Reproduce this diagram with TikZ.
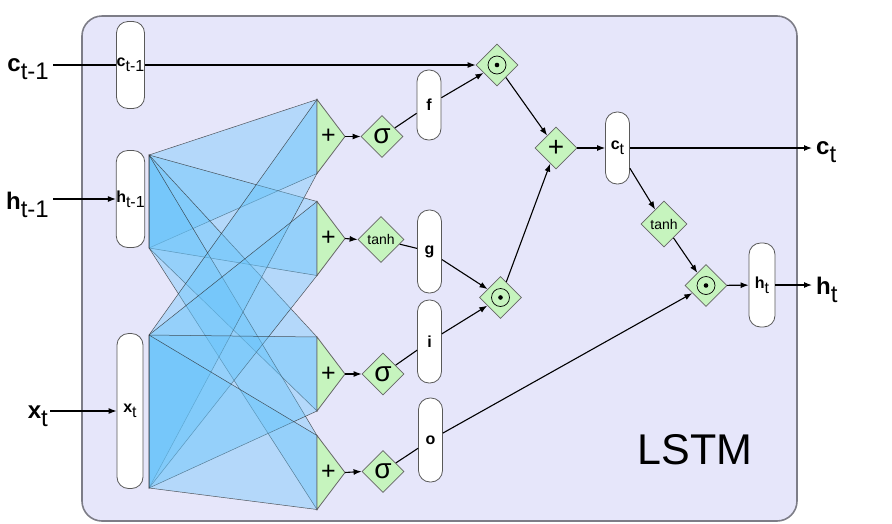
\documentclass[tikz,border=0pt]{standalone}
\usepackage{fontspec}
\setmainfont{Liberation Sans}
\usetikzlibrary{shapes.geometric,arrows.meta}
\definecolor{lstmbg}{RGB}{230,230,250}
\definecolor{lstmrim}{RGB}{125,125,135}
\definecolor{opgreen}{RGB}{198,244,190}
\definecolor{wblue}{RGB}{100,195,250}
\newcommand{\vsub}[2]{\textbf{#1}\raisebox{-0.32em}{#2}}
\tikzset{
  pill/.style={rectangle, rounded corners=11.5pt, draw=black!65, fill=white, line width=0.8pt,
    minimum width=24pt, inner sep=0pt, font=\fontsize{16}{17}\selectfont},
  gatepill/.style={pill, font=\fontsize{16}{18}\selectfont\bfseries},
  opdia/.style={diamond, draw=black!60, fill=opgreen, line width=0.8pt, minimum width=42pt,
    minimum height=42pt, inner sep=0pt, font=\fontsize{28}{28}\selectfont},
  tanhdia/.style={opdia, minimum width=46pt, minimum height=46pt, font=\fontsize{14}{14}\selectfont},
  sumtri/.style={draw=black!60, fill=opgreen, line width=0.8pt},
  wquad/.style={fill=wblue, fill opacity=0.38, draw=black!85, draw opacity=0.75, line width=0.5pt},
  extlbl/.style={inner sep=0pt, font=\fontsize{24}{25}\selectfont},
  carr/.style={-{Latex[length=8pt,width=6pt]}, line width=1.1pt},
  cln/.style={line width=1.1pt},
}
\begin{document}
\begin{tikzpicture}[x=1pt,y=-1pt]
  \useasboundingbox (0,0) rectangle (892,523);
  \draw[fill=lstmbg, draw=lstmrim, line width=1.6pt, rounded corners=20pt] (82,16) rectangle (797,521);
  \node[font=\fontsize{43}{43}\selectfont] (lstm) at (695,450) {LSTM};
  \foreach \st/\sb in {155/248,335/488}
    \foreach \yc in {136.5,238.5,374,472.5}
      \draw[wquad] (149,\st) -- (317,\yc-37) -- (317,\yc+37) -- (149,\sb) -- cycle;
  \foreach \n/\yc in {1/136.5,2/238.5,3/374,4/472.5}{
    \draw[sumtri] (317,\yc-37) -- (345,\yc) -- (317,\yc+37) -- cycle;
    \node[font=\fontsize{25}{25}\selectfont] (sum\n) at (328.5,\yc) {+};
    \coordinate (ap\n) at (345,\yc);
  }
  \node[pill, minimum width=28pt, minimum height=87pt] (cp) at (130.5,65) {\vsub{c}{t-1}};
  \node[pill, minimum width=28pt, minimum height=97pt] (hp) at (130.5,199) {\vsub{h}{t-1}};
  \node[pill, minimum width=26pt, minimum height=155pt] (xp) at (130,411) {\vsub{x}{t}};
  \node[extlbl, anchor=east] (cin) at (49,69) {\vsub{c}{t-1}};
  \node[extlbl, anchor=east] (hin) at (49,205) {\vsub{h}{t-1}};
  \node[extlbl, anchor=east] (xin) at (48,416) {\vsub{x}{t}};
  \node[opdia] (s1) at (382,136.5) {σ};
  \node[tanhdia] (s2) at (381,239.5) {tanh};
  \node[opdia] (s3) at (383,374) {σ};
  \node[opdia] (s4) at (383,471.5) {σ};
  \node[gatepill, minimum height=70pt] (f) at (429,105) {f};
  \node[gatepill, minimum height=83pt] (g) at (429.5,251.5) {g};
  \node[gatepill, minimum height=83pt] (i) at (429.5,341.5) {i};
  \node[gatepill, minimum height=84pt] (o) at (430.5,440) {o};
  \node[opdia] (m1) at (497,65) {};
  \node[opdia] (m2) at (500.5,297.5) {};
  \node[opdia] (m3) at (706,285.5) {};
  \node[opdia] (add) at (556,148) {+};
  \node[pill, minimum height=72pt] (ct) at (617.5,148) {\vsub{c}{t}};
  \node[tanhdia] (tc) at (664,224) {tanh};
  \node[pill, minimum width=26pt, minimum height=84pt] (ht) at (762,285) {\vsub{h}{t}};
  \node[extlbl, anchor=west] (cout) at (816,152) {\vsub{c}{t}};
  \node[extlbl, anchor=west] (hout) at (816,290) {\vsub{h}{t}};
  \foreach \m in {m1,m2,m3}{
    \draw[line width=0.7pt] (\m) circle (9pt);
    \fill (\m) circle (2.3pt);
  }
  \draw[cln, shorten <=4pt] (cin.east |- cp) -- (cp.west);
  \draw[carr] (cp.east) -- (m1);
  \draw[carr, shorten <=4pt] (hin.east |- hp) -- (hp.west);
  \draw[carr, shorten <=2pt] (xin.east |- xp) -- (xp.west);
  \foreach \n in {1,2,3,4} \draw[carr] (ap\n) -- (s\n.west);
  \draw[cln] (s1) -- (f); \draw[cln] (s2) -- (g); \draw[cln] (s3) -- (i); \draw[cln] (s4) -- (o);
  \draw[carr] (f) -- (m1); \draw[carr] (g) -- (m2); \draw[carr] (i) -- (m2); \draw[carr] (o) -- (m3);
  \draw[carr] (m1) -- (add); \draw[carr] (m2) -- (add); \draw[carr] (add) -- (ct);
  \draw[carr, shorten >=4pt] (ct.east) -- (cout.west |- ct);
  \draw[carr] (ct) -- (tc); \draw[carr] (tc) -- (m3); \draw[carr] (m3) -- (ht);
  \draw[carr, shorten >=4pt] (ht.east) -- (hout.west |- ht);
\end{tikzpicture}
\end{document}
